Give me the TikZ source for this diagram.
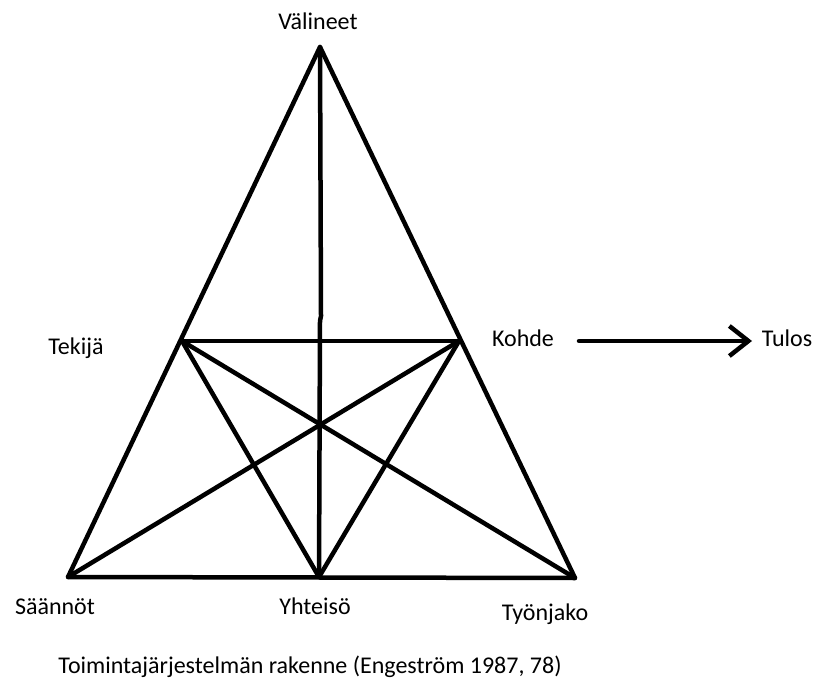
\documentclass[tikz,border=0pt]{standalone}
\usepackage{fontspec}
\setmainfont{Carlito}
\usetikzlibrary{arrows.meta}
\begin{document}
\begin{tikzpicture}[x=1pt,y=-1pt,
  edge/.style={line width=4.5pt, line cap=round, line join=round, black},
  lbl/.style={font=\fontsize{24}{28}\selectfont, text=black, inner sep=0pt, anchor=center}]
\useasboundingbox (0,0) rectangle (821,684);
% vertices
\coordinate (A) at (320,47);
\coordinate (L) at (68,577);
\coordinate (R) at (575,578);
\coordinate (B) at (319,577);
\coordinate (ML) at (182,341);
\coordinate (MR) at (459,341);
\coordinate (K1) at (321,316);
\coordinate (K2) at (320,321);
% outer triangle
\draw[edge] (A) -- (L) -- (R) -- cycle;
% vertical
\draw[edge] (A) -- (K1) -- (K2) -- (B);
% inner lines
\draw[edge] (ML) -- (MR);
\draw[edge] (ML) -- (B) -- (MR);
\draw[edge] (ML) -- (R);
\draw[edge] (MR) -- (L);
% labels
\node[lbl] (valineet) at (318,21) {Välineet};
\node[lbl] (tekija) at (76,348) {Tekijä};
\node[lbl] (kohde) at (523,338) {Kohde};
\node[lbl] (tulos) at (787,338) {Tulos};
\node[lbl] (saannot) at (55,607) {Säännöt};
\node[lbl] (yhteiso) at (315,606) {Yhteisö};
\node[lbl] (tyonjako) at (545,614) {Työnjako};
\node[lbl] (caption) at (310,667) {Toimintajärjestelmän rakenne (Engeström 1987, 78)};
% arrow
\coordinate (arrS) at (579,341);
\coordinate (arrE) at (752,341);
\draw[edge, -{Straight Barb[length=19pt,width=30pt,line width=4.5pt]}] (arrS) -- (arrE);
\end{tikzpicture}
\end{document}
